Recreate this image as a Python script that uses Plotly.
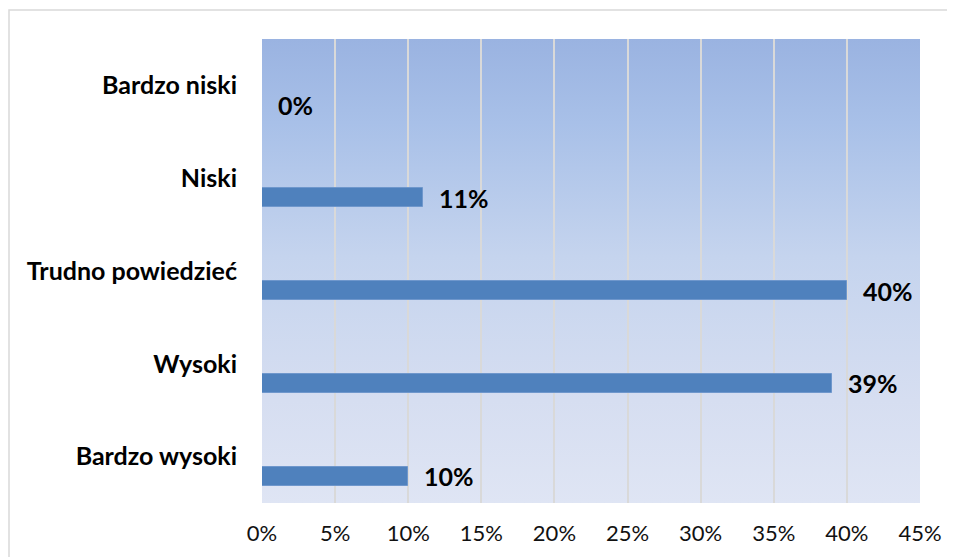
"""Ocena poziomu - horizontal bar chart with Excel-like gradient plot area."""
import base64

import plotly.graph_objects as go

categories = ["Bardzo niski", "Niski", "Trudno powiedzieć", "Wysoki", "Bardzo wysoki"]
values = [0, 11, 40, 39, 10]
x_ticks = [0, 5, 10, 15, 20, 25, 30, 35, 40, 45]

BAR_COLOR = "#4F81BD"
GRID = "#D9D9D9"
FONT = "Lato"

# gradient background for the plot area (Excel "preset" fill)
svg = (
    '<svg xmlns="http://www.w3.org/2000/svg" width="100" height="100" preserveAspectRatio="none">'
    '<defs><linearGradient id="g" x1="0" y1="0" x2="0" y2="1">'
    '<stop offset="0" stop-color="rgb(154,179,225)"/>'
    '<stop offset="0.18" stop-color="rgb(168,192,232)"/>'
    '<stop offset="0.47" stop-color="rgb(197,212,238)"/>'
    '<stop offset="0.78" stop-color="rgb(214,222,241)"/>'
    '<stop offset="1" stop-color="rgb(223,229,244)"/>'
    '</linearGradient></defs><rect width="100" height="100" fill="url(#g)"/></svg>'
)
bg_uri = "data:image/svg+xml;base64," + base64.b64encode(svg.encode()).decode()

pos = list(range(len(categories)))
offset, width = 0.108, 0.205

fig = go.Figure(go.Bar(
    x=values, y=pos, orientation="h",
    offset=offset, width=width,
    marker={"color": BAR_COLOR, "line": {"color": "#6F97CC", "width": 1}},
    hoverinfo="skip",
))

for p, v in zip(pos, values):
    fig.add_annotation(
        x=v, y=p + offset + width / 2, text=f"<b>{v}%</b>",
        xanchor="left", yanchor="middle", xshift=14, showarrow=False,
        font={"family": FONT, "size": 25, "color": "black"},
    )

fig.add_layout_image(
    source=bg_uri, xref="paper", yref="paper", x=0, y=1,
    sizex=1, sizey=1, xanchor="left", yanchor="top",
    sizing="stretch", layer="below",
)

# outer chart border (runs off the right/bottom of the page)
fig.add_shape(
    type="rect", xref="paper", yref="paper", x0=-0.3845, x1=1.1, y0=-0.2, y1=1.0625,
    line={"color": "#D9D9D9", "width": 1.5}, fillcolor="rgba(0,0,0,0)", layer="below",
)

fig.update_xaxes(
    range=[0, 45], tickvals=x_ticks, ticktext=[f"{t}%" for t in x_ticks],
    showgrid=True, gridcolor=GRID, gridwidth=2, zeroline=False,
    showline=False, ticks="", ticklabelstandoff=15,
    tickfont={"family": FONT, "size": 22, "color": "#111"},
)
fig.update_yaxes(
    range=[4.5, -0.5], tickvals=pos, ticktext=[f"<b>{c}</b>" for c in categories],
    showgrid=False, zeroline=False, showline=False, ticks="",
    ticklabelstandoff=24,
    tickfont={"family": FONT, "size": 25, "color": "black"},
)

fig.update_layout(
    width=955, height=557,
    margin={"l": 254, "r": 43, "t": 31, "b": 62},
    paper_bgcolor="white", plot_bgcolor="rgba(0,0,0,0)",
    showlegend=False, bargap=0,
)

fig.write_html("out.html")
